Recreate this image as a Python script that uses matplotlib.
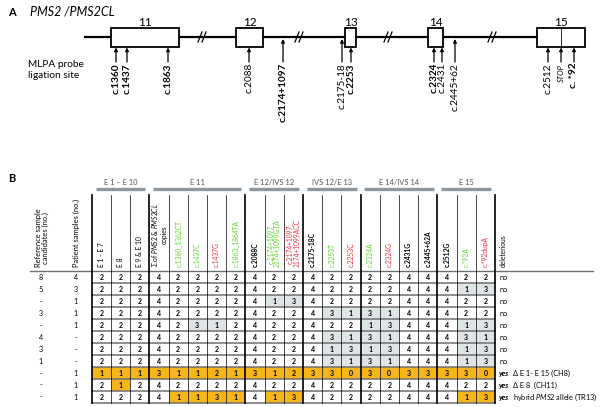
import matplotlib
matplotlib.use("Agg")
import matplotlib.pyplot as plt
from matplotlib.patches import Rectangle

plt.rcParams['font.family'] = ['Lato', 'DejaVu Sans']
plt.rcParams['mathtext.fontset'] = 'custom'
plt.rcParams['mathtext.rm'] = 'Lato'
plt.rcParams['mathtext.it'] = 'Lato:italic'
plt.rcParams['mathtext.bf'] = 'Lato:bold'

# ---------------- Panel A data ----------------
exon_names = ['11', '12', '13', '14', '15']
probe_labels = ['c.1360', 'c.1437', 'c.1863', 'c.2088', 'c.2174+1097', 'c.2175-18',
                'c.2253', 'c.2324', 'c.2431', 'c.2445+62', 'c.2512', 'STOP', 'c. *92']
probe_bold = [True, True, True, False, True, False, True, True, False, False, False, False, True]
probe_on_exon = [True, True, True, True, False, False, True, True, True, False, True, True, True]

# ---------------- Panel B data ----------------
group_names = ['E 1 – E 10', 'E 11', 'E 12/IVS 12', 'IVS 12/E 13', 'E 14/IVS 14', 'E 15']
group_sizes = [3, 5, 3, 3, 4, 3]
col_labels = ['E 1 - E 7', 'E 8', 'E 9 & E 10',
              'Σ of $\\it{PMS2}$ & $\\it{PMS2CL}$\ncopies',
              'c.1360_1362CT', 'c.1437C', 'c.1437G', 'c.1863_1864TA',
              'c.2088C', 'c.2174+1097_\n2174+1099GTA', 'c.2174+1097_\n2174+1099ACC',
              'c.2175-18C', 'c.2253T', 'c.2253C', 'c.2324A', 'c.2324G',
              'c.2431G', 'c.2445+62A', 'c.2512G', 'c.*92A', 'c.*92dupA']
col_kind = ['n', 'n', 'n', 'n', 'g', 'g', 'r', 'g', 'b', 'g', 'r', 'b', 'g', 'r', 'g', 'r',
            'b', 'b', 'b', 'g', 'r']
ref_candidates = ['8', '5', '-', '3', '-', '4', '3', '1', '-', '-', '-']
patient_samples = ['4', '3', '1', '1', '1', '-', '-', '-', '1', '1', '1']
copy_numbers = [
    [2, 2, 2, 4, 2, 2, 2, 2, 4, 2, 2, 4, 2, 2, 2, 2, 4, 4, 4, 2, 2],
    [2, 2, 2, 4, 2, 2, 2, 2, 4, 2, 2, 4, 2, 2, 2, 2, 4, 4, 4, 1, 3],
    [2, 2, 2, 4, 2, 2, 2, 2, 4, 1, 3, 4, 2, 2, 2, 2, 4, 4, 4, 2, 2],
    [2, 2, 2, 4, 2, 2, 2, 2, 4, 2, 2, 4, 3, 1, 3, 1, 4, 4, 4, 2, 2],
    [2, 2, 2, 4, 2, 3, 1, 2, 4, 2, 2, 4, 2, 2, 1, 3, 4, 4, 4, 1, 3],
    [2, 2, 2, 4, 2, 2, 2, 2, 4, 2, 2, 4, 3, 1, 3, 1, 4, 4, 4, 3, 1],
    [2, 2, 2, 4, 2, 2, 2, 2, 4, 2, 2, 4, 1, 3, 1, 3, 4, 4, 4, 1, 3],
    [2, 2, 2, 4, 2, 2, 2, 2, 4, 2, 2, 4, 3, 1, 3, 1, 4, 4, 4, 1, 3],
    [1, 1, 1, 3, 1, 1, 2, 1, 3, 1, 2, 3, 3, 0, 3, 0, 3, 3, 3, 3, 0],
    [2, 1, 2, 4, 2, 2, 2, 2, 4, 2, 2, 4, 2, 2, 2, 2, 4, 4, 4, 2, 2],
    [2, 2, 2, 4, 1, 1, 3, 1, 4, 1, 3, 4, 2, 2, 2, 2, 4, 4, 4, 1, 3],
]
# g = grey (variant), o = orange (deleterious)
highlight = [
    '.....................',
    '...................gg',
    '.........gg..........',
    '............gggg.....',
    '.....gg.......gg...gg',
    '............gggg...gg',
    '............gggg...gg',
    '............gggg...gg',
    'ooooooooooooooooooooo',
    '.o...................',
    '....oooo.oo........oo',
]
deleterious = ['no'] * 8 + ['yes'] * 3
deleterious_note = [''] * 8 + ['Δ E 1- E 15 (CH8)', 'Δ E 8  (CH11)',
                               'hybrid $\\it{PMS2}$ allele (TR13)']

# ---------------- layout ----------------
W, H = 600, 407
fig = plt.figure(figsize=(6.0, 4.07), dpi=100)
axA = fig.add_axes([0, 0, 1, 1])
axA.set_xlim(0, W)
axA.set_ylim(H, 0)
axA.axis('off')

# Panel A geometry (pixels)
line_y = 37
exon_x = [(111, 179), (236, 263), (345, 356), (428, 443), (537, 585)]
box_top, box_bot = 28, 47
probe_x = [116, 127, 168, 249, 283, 342, 351, 434, 442, 455, 548, 561, 574]
break_x = [203, 300, 389, 493]

axA.text(8, 12, 'A', fontsize=8, fontweight='bold', va='center')
axA.text(30, 12, 'PMS2 /PMS2CL', fontsize=9, style='italic', va='center')
axA.plot([85, exon_x[-1][0]], [line_y, line_y], color='k', lw=1.6, zorder=1)
for (x0, x1), name in zip(exon_x, exon_names):
    axA.add_patch(Rectangle((x0, box_top), x1 - x0, box_bot - box_top,
                            facecolor='white', edgecolor='k', lw=1.3, zorder=2))
    axA.text((x0 + x1) / 2, box_top - 0.5, name, ha='center', va='bottom', fontsize=8.5)
axA.plot([561, 561], [box_top, box_bot], color='k', lw=0.6, zorder=3)
for bx in break_x:
    for dx in (-3, 1):
        axA.plot([bx + dx - 2, bx + dx + 2], [line_y + 5, line_y - 5], color='k', lw=0.9, zorder=3)

for x, lab, bold, onex in zip(probe_x, probe_labels, probe_bold, probe_on_exon):
    tip = box_bot + 0.5 if onex else line_y + 2
    axA.annotate('', xy=(x, tip), xytext=(x, 62),
                 arrowprops=dict(arrowstyle='-|>', lw=0.9, color='k',
                                 mutation_scale=5, shrinkA=0, shrinkB=0))
    if lab == 'STOP':
        axA.text(x, 64, lab, rotation=90, ha='center', va='top', fontsize=5.5, style='italic')
    else:
        axA.text(x, 63, lab, rotation=90, ha='center', va='top', fontsize=7.2,
                 fontweight='bold' if bold else 'normal')
axA.text(28, 70, 'MLPA probe\nligation site', fontsize=7.3, va='center', ha='left',
         linespacing=1.3)
axA.text(8, 178, 'B', fontsize=8, fontweight='bold', va='center')

# ---------------- Panel B table ----------------
ncol = len(col_labels)
nrow = len(copy_numbers)
gx0, gx1 = 91.7, 495.0
gy0, gy1 = 271.3, 402.5
axB = fig.add_axes([gx0 / W, 1 - gy1 / H, (gx1 - gx0) / W, (gy1 - gy0) / H])
axB.set_xlim(0, ncol)
axB.set_ylim(nrow, 0)
axB.axis('off')
cw = (gx1 - gx0) / ncol
rh = (gy1 - gy0) / nrow

def px2col(px):
    return (px - gx0) / cw

def py2row(py):
    return (py - gy0) / rh

fills = {'g': '#dfe4e6', 'o': '#f6b519'}
for r in range(nrow):
    for c in range(ncol):
        h = highlight[r][c]
        if h in fills:
            axB.add_patch(Rectangle((c, r), 1, 1, facecolor=fills[h], edgecolor='none', zorder=1))
        axB.text(c + 0.5, r + 0.55, str(copy_numbers[r][c]), ha='center', va='center',
                 fontsize=5.0, fontweight='bold', zorder=4)

# horizontal row lines
for r in range(1, nrow + 1):
    axB.plot([0, ncol], [r, r], color='#6f6f6f', lw=1.1, zorder=2, clip_on=False)
# long header line
axB.plot([px2col(30), px2col(593)], [0, 0], color='#6f6f6f', lw=1.0, zorder=2, clip_on=False)

# vertical lines
group_edges = [0]
for s in group_sizes:
    group_edges.append(group_edges[-1] + s)
ytop = py2row(195)
for c in range(ncol + 1):
    thick = c in group_edges
    axB.plot([c, c], [ytop, nrow], color='k', lw=1.2 if thick else 0.5, zorder=3,
             clip_on=False)

# group headers
ybar = py2row(189)
for name, a, b in zip(group_names, group_edges[:-1], group_edges[1:]):
    axB.plot([a + 0.2, b - 0.2], [ybar, ybar], color='#8c989e', lw=2.4,
             solid_capstyle='butt', clip_on=False)
    axB.text((a + b) / 2, ybar - 0.25, name, ha='center', va='bottom', fontsize=5.4,
             color='#555555', clip_on=False)

# column headers
kind_color = {'n': 'k', 'b': 'k', 'g': '#5bd42a', 'r': '#ee2a3c'}
for c, (lab, kind) in enumerate(zip(col_labels, col_kind)):
    axB.text(c + 0.5, -0.35, lab, rotation=90, ha='center', va='bottom', fontsize=4.8,
             color=kind_color[kind], fontweight='bold' if kind == 'b' else 'normal',
             linespacing=1.0, clip_on=False)
axB.text(px2col(503), -0.35, 'deleterious', rotation=90, ha='center', va='bottom',
         fontsize=4.8, clip_on=False)

# left columns
axB.text(px2col(42), -0.35, 'Reference sample\ncandidates (no.)', rotation=90, ha='center',
         va='bottom', fontsize=5.4, linespacing=1.1, clip_on=False)
axB.text(px2col(76), -0.35, 'Patient samples (no.)', rotation=90, ha='center',
         va='bottom', fontsize=5.4, clip_on=False)
for r in range(nrow):
    axB.text(px2col(41), r + 0.55, ref_candidates[r], ha='center', va='center',
             fontsize=5.2, clip_on=False)
    axB.text(px2col(76), r + 0.55, patient_samples[r], ha='center', va='center',
             fontsize=5.2, clip_on=False)
    if deleterious[r] == 'no':
        axB.text(px2col(499), r + 0.55, 'no', ha='left', va='center', fontsize=5.3,
                 clip_on=False)
    else:
        axB.text(px2col(499), r + 0.55, 'yes', ha='left', va='center', fontsize=5.3,
                 fontweight='bold', style='italic', clip_on=False)
        axB.text(px2col(513), r + 0.55, deleterious_note[r], ha='left', va='center',
                 fontsize=5.3, clip_on=False)

fig.savefig('out.png', dpi=100)
